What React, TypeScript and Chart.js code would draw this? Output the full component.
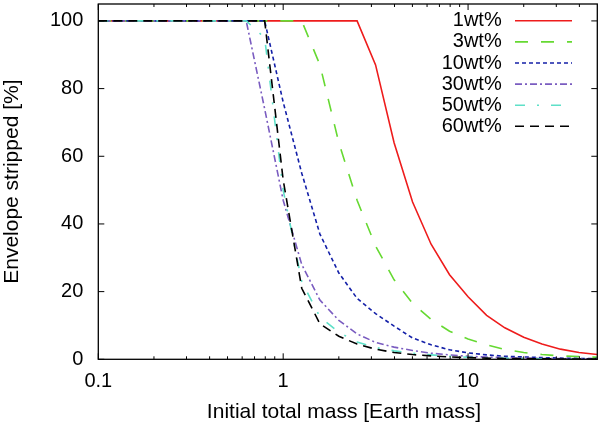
import React, { useEffect, useRef } from 'react';
import { Chart, registerables } from 'chart.js';

Chart.register(...registerables);

const FONT = '"Liberation Sans", Arial, Helvetica, sans-serif';

// initial total mass [Earth mass], 0.1 dex steps
const massValues = [
  0.1, 0.126, 0.158, 0.2, 0.251, 0.316, 0.398, 0.501, 0.631, 0.794,
  1, 1.26, 1.58, 2, 2.51, 3.16, 3.98, 5.01, 6.31, 7.94,
  10, 12.6, 15.8, 20, 25.1, 31.6, 39.8, 50,
];

// envelope stripped [%] for each water fraction
const wt1 = [
  100, 100, 100, 100, 100, 100, 100, 100, 100, 100,
  100, 100, 100, 100, 100, 87, 64, 46.5, 34, 25,
  18.5, 13, 9.3, 6.5, 4.5, 3, 2, 1.4,
];
const wt3 = [
  100, 100, 100, 100, 100, 100, 100, 100, 100, 100,
  100, 100, 87, 64, 47, 33.5, 23.5, 16.5, 11.8, 8.3,
  6, 4.3, 2.9, 2, 1.4, 1, 0.8, 0.6,
];
const wt10 = [
  100, 100, 100, 100, 100, 100, 100, 100, 100, 100,
  76, 55, 37, 25.5, 18, 13.5, 9.8, 6.3, 4.3, 2.8,
  1.9, 1.3, 0.9, 0.7, 0.5, 0.35, 0.25, 0.2,
];
const wt30 = [
  100, 100, 100, 100, 100, 100, 100, 100, 100, 74,
  47, 28, 17.5, 11.5, 7.5, 5, 3.6, 2.6, 1.8, 1.3,
  0.9, 0.65, 0.5, 0.35, 0.25, 0.2, 0.15, 0.1,
];
const wt50 = [
  100, 100, 100, 100, 100, 100, 100, 100, 100, 95,
  50, 23, 12.5, 8, 5.1, 3.5, 2.5, 1.8, 1.3, 0.9,
  0.6, 0.45, 0.3, 0.2, 0.15, 0.1, 0.1, 0.05,
];
const wt60 = [
  100, 100, 100, 100, 100, 100, 100, 100, 100, 100,
  53, 21, 10.5, 6.8, 4.5, 3, 2, 1.4, 1, 0.7,
  0.5, 0.35, 0.25, 0.2, 0.15, 0.1, 0.1, 0.05,
];

const seriesLabels = ['1wt%', '3wt%', '10wt%', '30wt%', '50wt%', '60wt%'];
const seriesValues = [wt1, wt3, wt10, wt30, wt50, wt60];
const seriesColors = ['#ee1c1c', '#66d932', '#1420a8', '#7a5cc0', '#5ee0c8', '#000000'];
const seriesDashes = [[], [13, 13], [4, 3], [7, 3, 2, 3], [10, 12, 2, 12], [9, 6]];

const xMajorTicks = [0.1, 1, 10];
const xMinorTicks = [0.2, 0.3, 0.4, 0.5, 0.6, 0.7, 0.8, 0.9, 2, 3, 4, 5, 6, 7, 8, 9, 20, 30, 40];
const yTicks = [0, 20, 40, 60, 80, 100];

const xTitle = 'Initial total mass [Earth mass]';
const yTitle = 'Envelope stripped [%]';

// gnuplot-like frame: inward ticks on all sides, titles and key drawn on the canvas
const plotFrame = {
  id: 'plotFrame',
  afterDraw(chart: any) {
    const { ctx, chartArea: a, scales } = chart;
    ctx.save();
    ctx.strokeStyle = '#000';
    ctx.lineWidth = 1;
    ctx.setLineDash([]);
    ctx.beginPath();
    yTicks.forEach(v => {
      const py = scales.y.getPixelForValue(v);
      ctx.moveTo(a.left, py);
      ctx.lineTo(a.left + 6, py);
      ctx.moveTo(a.right, py);
      ctx.lineTo(a.right - 6, py);
    });
    xMajorTicks.forEach(v => {
      const px = scales.x.getPixelForValue(v);
      ctx.moveTo(px, a.bottom);
      ctx.lineTo(px, a.bottom - 6);
      ctx.moveTo(px, a.top);
      ctx.lineTo(px, a.top + 6);
    });
    xMinorTicks.forEach(v => {
      const px = scales.x.getPixelForValue(v);
      ctx.moveTo(px, a.bottom);
      ctx.lineTo(px, a.bottom - 3);
      ctx.moveTo(px, a.top);
      ctx.lineTo(px, a.top + 3);
    });
    ctx.stroke();
    ctx.lineWidth = 1.3;
    ctx.strokeRect(a.left, a.top, a.right - a.left, a.bottom - a.top);

    // axis titles
    ctx.fillStyle = '#000';
    ctx.font = `21px ${FONT}`;
    ctx.textAlign = 'center';
    ctx.textBaseline = 'middle';
    ctx.fillText(xTitle, 344, 412.5);
    ctx.save();
    ctx.translate(12.5, (a.top + a.bottom) / 2);
    ctx.rotate(-Math.PI / 2);
    ctx.fillText(yTitle, 0, 0);
    ctx.restore();

    // key
    ctx.font = `20px ${FONT}`;
    ctx.textAlign = 'right';
    chart.data.datasets.forEach((ds: any, i: number) => {
      const y = 20.8 + i * 21.1;
      ctx.fillStyle = '#000';
      ctx.fillText(ds.label, 501.7, y);
      ctx.strokeStyle = ds.borderColor;
      ctx.lineWidth = ds.borderWidth;
      ctx.setLineDash(ds.borderDash || []);
      ctx.beginPath();
      ctx.moveTo(515, y);
      ctx.lineTo(572, y);
      ctx.stroke();
    });
    ctx.restore();
  },
};

const noScalePadding = (scale: any) => {
  scale.paddingTop = 0;
  scale.paddingBottom = 0;
  scale.paddingLeft = 0;
  scale.paddingRight = 0;
};

const EnvelopeStrippedChart: React.FC = () => {
  const canvasRef = useRef<HTMLCanvasElement | null>(null);

  useEffect(() => {
    if (!canvasRef.current) return;
    const ctx = canvasRef.current.getContext('2d');
    if (!ctx) return;

    const myChart = new Chart(ctx, {
      type: 'line',
      data: {
        datasets: seriesLabels.map((label, i) => ({
          label,
          data: massValues.map((m, j) => ({ x: m, y: seriesValues[i][j] })),
          borderColor: seriesColors[i],
          backgroundColor: seriesColors[i],
          borderWidth: 1.6,
          borderDash: seriesDashes[i],
          pointRadius: 0,
          tension: 0,
          fill: false,
          order: -i, // later series on top, like gnuplot
        })),
      },
      options: {
        animation: false,
        responsive: true,
        maintainAspectRatio: false,
        layout: { padding: { top: 4, right: 2.7, left: 0, bottom: 0 } },
        plugins: {
          legend: { display: false },
          tooltip: { enabled: false },
        },
        scales: {
          x: {
            type: 'logarithmic',
            min: 0.1,
            max: 50,
            grid: { display: false, drawTicks: false },
            border: { display: false },
            afterBuildTicks: (scale: any) => {
              scale.ticks = [...xMajorTicks, ...xMinorTicks]
                .sort((p, q) => p - q)
                .map(v => ({ value: v, major: xMajorTicks.includes(v) }));
            },
            afterFit: (scale: any) => {
              scale.height = 66.7;
              noScalePadding(scale);
            },
            ticks: {
              autoSkip: false,
              maxRotation: 0,
              padding: 10,
              color: '#000',
              font: { family: FONT, size: 20 },
              callback: (v: any) => (xMajorTicks.includes(Number(v)) ? String(v) : ''),
            },
          },
          y: {
            type: 'linear',
            min: 0,
            max: 105,
            grid: { display: false, drawTicks: false },
            border: { display: false },
            afterBuildTicks: (scale: any) => {
              scale.ticks = yTicks.map(v => ({ value: v }));
            },
            afterFit: (scale: any) => {
              scale.width = 98.3;
              noScalePadding(scale);
            },
            ticks: {
              padding: 15,
              color: '#000',
              font: { family: FONT, size: 20 },
              callback: (v: any) => String(v),
            },
          },
        },
      },
      plugins: [plotFrame],
    });

    return () => {
      myChart.destroy();
    };
  }, []);

  return (
    <div style={{ position: 'fixed', left: 0, top: 0, width: 600, height: 426, background: '#fff' }}>
      <canvas ref={canvasRef} />
    </div>
  );
};

export default function App() {
  return <EnvelopeStrippedChart />;
}
